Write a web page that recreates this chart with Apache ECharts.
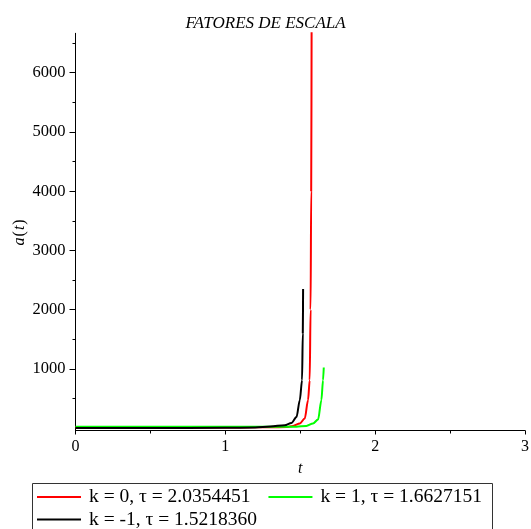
<!DOCTYPE html>
<html>
<head>
<meta charset="utf-8">
<script src="https://cdn.jsdelivr.net/npm/echarts@6/dist/echarts.min.js"></script>
<style>
html,body{margin:0;padding:0;background:#fff;}
#c{width:531px;height:529px;}
</style>
</head>
<body>
<div id="c"></div>
<script>
// ---- data ----
var seriesNames = ['k = 0, τ = 2.0354451', 'k = 1, τ = 1.6627151', 'k = -1, τ = 1.5218360'];
var seriesColors = ['#ff0000', '#00ff00', '#000000'];

var tRed = [0, 0.5, 1.0, 1.2, 1.3, 1.408, 1.452, 1.497, 1.530, 1.552, 1.563, 1.569, 1.573, 1.576];
var aRed = [10, 11, 12, 13, 14, 18, 37, 78, 162, 471, 809, 2000, 4000, 7000];

var tGreen = [0, 0.5, 1.0, 1.3, 1.475, 1.541, 1.585, 1.619, 1.641, 1.652, 1.657];
var aGreen = [22, 22, 22, 23, 25, 37, 78, 145, 471, 809, 1024];

var tBlack = [0, 0.5, 1.0, 1.2, 1.3, 1.397, 1.441, 1.475, 1.497, 1.512, 1.517, 1.519];
var aBlack = [1, 2, 5, 12, 28, 49, 88, 189, 471, 809, 1600, 2350];

var yMajorTicks = [1000, 2000, 3000, 4000, 5000, 6000];
var yMinorTicks = [500, 1500, 2500, 3500, 4500, 5500, 6500];
var xRange = [0, 3];
var yRange = [-40, 6665];

function pairs(t, a) { return t.map(function (v, i) { return [v, a[i]]; }); }

var serif = "'Liberation Serif','Times New Roman',serif";
var chart = echarts.init(document.getElementById('c'), null, {renderer: 'canvas'});

var tData = [pairs(tRed, aRed), pairs(tGreen, aGreen), pairs(tBlack, aBlack)];

var legendCommon = {
  left: 37,
  orient: 'horizontal',
  padding: 0,
  itemGap: 18,
  itemWidth: 44,
  itemHeight: 2,
  icon: 'rect',
  textStyle: {fontFamily: serif, fontSize: 19.5, color: '#000', padding: [0, 0, 0, 3]}
};

chart.setOption({
  animation: false,
  backgroundColor: '#ffffff',
  title: {
    text: 'FATORES DE ESCALA',
    left: 'center',
    top: 10,
    textStyle: {fontFamily: serif, fontStyle: 'italic', fontWeight: 'normal', fontSize: 17, color: '#000'}
  },
  grid: {left: 75.5, right: 6, top: 33.3, bottom: 98.5, containLabel: false, outerBoundsMode: 'none'},
  graphic: [{
    type: 'rect',
    shape: {x: 32.5, y: 483.5, width: 460, height: 70},
    style: {fill: 'none', stroke: '#333', lineWidth: 1},
    silent: true
  }],
  legend: [
    Object.assign({}, legendCommon, {top: 487, data: seriesNames.slice(0, 2)}),
    Object.assign({}, legendCommon, {top: 509.5, data: seriesNames.slice(2)})
  ],
  xAxis: {
    type: 'value',
    min: xRange[0], max: xRange[1], interval: 1,
    name: 't',
    nameLocation: 'middle',
    nameGap: 30,
    nameMoveOverlap: false,
    nameTextStyle: {fontFamily: serif, fontStyle: 'italic', fontSize: 16, color: '#000'},
    axisLine: {onZero: false, lineStyle: {color: '#000', width: 1}},
    axisTick: {show: true, length: 4, lineStyle: {color: '#000'}},
    minorTick: {show: true, splitNumber: 2, length: 3, lineStyle: {color: '#000'}},
    axisLabel: {fontFamily: serif, fontSize: 16, color: '#000', margin: 8},
    splitLine: {show: false}
  },
  yAxis: [{
    type: 'value',
    min: yRange[0], max: yRange[1],
    name: '{i|a}{n|(}{i|t}{n|)}',
    nameLocation: 'middle',
    nameRotate: 90,
    nameGap: 48,
    nameMoveOverlap: false,
    nameTextStyle: {
      fontFamily: serif, fontSize: 16, color: '#000',
      rich: {
        i: {fontFamily: serif, fontStyle: 'italic', fontSize: 16, color: '#000'},
        n: {fontFamily: serif, fontSize: 16, color: '#000', padding: [0, 1, 0, 1]}
      }
    },
    axisLine: {onZero: false, lineStyle: {color: '#000', width: 1}},
    axisTick: {show: true, length: 6, customValues: yMajorTicks, lineStyle: {color: '#000'}},
    axisLabel: {
      fontFamily: serif, fontSize: 16.5, color: '#000', margin: 10, customValues: yMajorTicks,
      formatter: function (v) { return String(v); }
    },
    splitLine: {show: false}
  }, {
    type: 'value',
    position: 'left',
    min: yRange[0], max: yRange[1],
    axisLine: {show: false},
    axisTick: {show: true, length: 3, customValues: yMinorTicks, lineStyle: {color: '#000'}},
    axisLabel: {show: false},
    splitLine: {show: false}
  }],
  series: tData.map(function (d, i) {
    return {
      name: seriesNames[i],
      type: 'line',
      data: d,
      showSymbol: false,
      symbol: 'none',
      smooth: 0.3,
      smoothMonotone: 'x',
      clip: true,
      z: 2 + i,
      lineStyle: {color: seriesColors[i], width: 2},
      itemStyle: {color: seriesColors[i]}
    };
  })
});
</script>
</body>
</html>
